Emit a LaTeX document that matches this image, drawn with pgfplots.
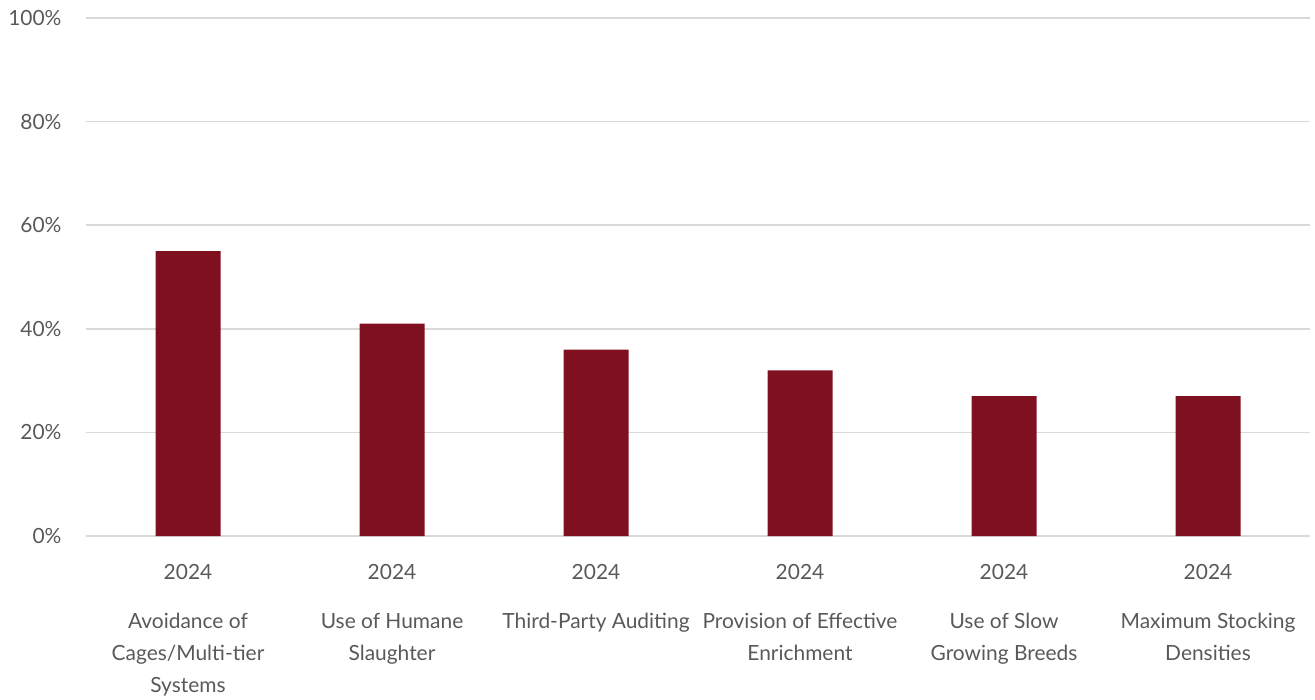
\documentclass[border=0pt]{standalone}
\usepackage{fontspec}
\setmainfont{Lato}
\usepackage{pgfplots}
\pgfplotsset{compat=1.18}
\definecolor{barc}{HTML}{7F1020}
\definecolor{txt}{HTML}{595959}
\definecolor{gridc}{HTML}{D9D9D9}
\begin{document}
\begin{tikzpicture}
\begin{axis}[
  name=ax,
  scale only axis,
  width=1224bp, height=518bp,
  xmin=-0.5, xmax=5.5, ymin=0, ymax=100,
  axis line style={draw=none},
  major tick length=0pt,
  ytick={0,20,40,60,80,100},
  yticklabel={\pgfmathprintnumber{\tick}\%},
  /pgf/number format/assume math mode=true,
  yticklabel style={font=\fontsize{21}{24}\selectfont, text=txt, xshift=-21bp},
  ymajorgrids,
  grid style={gridc, line width=1.6bp},
  xtick={0,1,2,3,4,5},
  xticklabels={
    {2024\\[17bp]Avoidance of\\Cages/Multi-tier\\Systems},
    {2024\\[17bp]Use of Humane\\Slaughter},
    {2024\\[17bp]Third-Party Auditing},
    {2024\\[17bp]Provision of Effective\\Enrichment},
    {2024\\[17bp]Use of Slow\\Growing Breeds},
    {2024\\[17bp]Maximum Stocking\\Densities}},
  xticklabel style={font=\fontsize{21}{32}\selectfont, text=txt, align=center, anchor=north, yshift=-25bp},
]
\addplot[ybar, bar width=65bp, fill=barc, draw=none] coordinates {
  (0,55) (1,41) (2,36) (3,32) (4,27) (5,27)
};
\end{axis}
\pgfresetboundingbox
\path ([xshift=-86bp, yshift=-163bp]ax.south west) rectangle ([xshift=5bp, yshift=18bp]ax.north east);
\end{tikzpicture}
\end{document}
